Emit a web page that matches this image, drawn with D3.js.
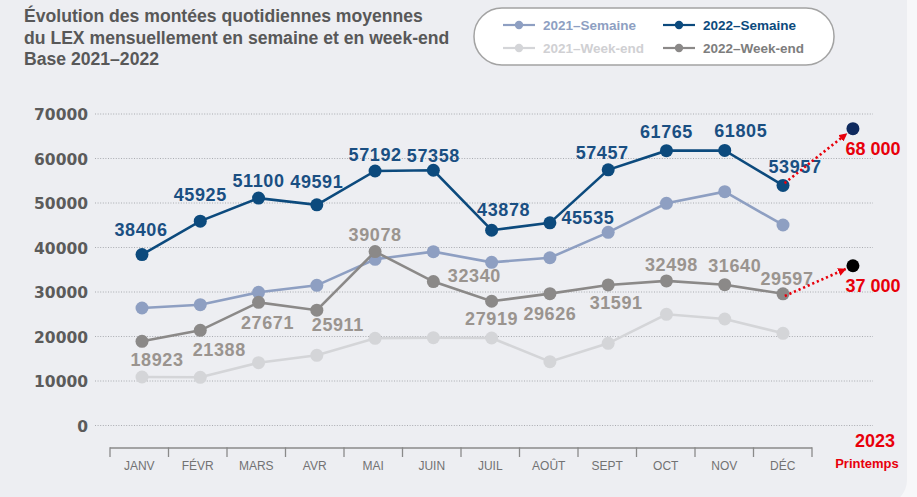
<!DOCTYPE html>
<html><head><meta charset="utf-8">
<script src="https://cdn.jsdelivr.net/npm/d3@7"></script>
<style>
html,body{margin:0;padding:0;background:#f7f7f9;}
svg{display:block;}
</style></head>
<body>
<svg id="c" width="917" height="497"></svg>
<script>
// ---- data ----
const months = ["JANV","FÉVR","MARS","AVR","MAI","JUIN","JUIL","AOÛT","SEPT","OCT","NOV","DÉC"];
const sem2021 = [26400,27150,29930,31500,37350,39060,36670,37700,43400,49930,52540,45060];
const sem2022 = [38406,45925,51100,49591,57192,57358,43878,45535,57457,61765,61805,53957];
const we2021  = [10900,10830,14110,15770,19600,19730,19660,14340,18470,24990,23930,20720];
const we2022  = [18923,21388,27671,25911,39078,32340,27919,29626,31591,32498,31640,29597];
const yTicks  = [0,10000,20000,30000,40000,50000,60000,70000];
const projValues = [66700, 35900];           // drawn position of 2023 points
const projLabels = ["68 000", "37 000"];
const projYear = "2023", projSeason = "Printemps";
const legendNames = ["2021–Semaine","2022–Semaine","2021–Week-end","2022–Week-end"];
const titleLines = ["Évolution des montées quotidiennes moyennes","du LEX mensuellement en semaine et en week-end","Base 2021–2022"];

// ---- layout (label offsets relative to points) ----
const sem22Off = [[-1,-19],[0,-20],[0,-11],[0,-17],[0,-10],[0,-8],[12,-14],[38,1],[-6,-11],[0,-13],[16,-13],[12,-12]];
const we22Off  = [[15,25],[19,26],[9,27],[21,21],[0,-11],[41,0],[0,24],[0,26],[8,24],[5,-10],[10,-13],[4,-9]];

const svg = d3.select("#c");
// panel
svg.append("rect").attr("x",-30).attr("y",-30).attr("width",937).attr("height",535).attr("rx",25).attr("fill","#edeef2");

const y = d3.scaleLinear().domain([0,70000]).range([425.5,114]);
const xb = d3.scaleBand().domain(months).range([110,812]);
const xp = d3.scalePoint().domain(months).range([142,783]);
const projX = xp("DÉC") + 1.2*xp.step();

// grid
svg.append("g").selectAll("line").data(yTicks).join("line")
  .attr("x1",95).attr("x2",873).attr("y1",d=>y(d)).attr("y2",d=>y(d))
  .attr("stroke","#a9abb0").attr("stroke-width",1).attr("stroke-dasharray","1,1.6");
svg.append("g").selectAll("text").data(yTicks).join("text")
  .attr("x",88).attr("y",d=>y(d)+1).attr("text-anchor","end").attr("dominant-baseline","central")
  .attr("font-family","DejaVu Sans").attr("font-weight","bold").attr("font-size",15.5).attr("fill","#5b5b5b")
  .text(d=>d);

// x axis
const ax = svg.append("g");
ax.append("line").attr("x1",xb.range()[0]).attr("x2",xb.range()[1]).attr("y1",448).attr("y2",448)
  .attr("stroke","#8a8a8a").attr("stroke-width",1.5);
const edges = months.map(m=>xb(m)).concat([xb.range()[1]]);
ax.selectAll("line.t").data(edges).join("line").attr("class","t")
  .attr("x1",d=>d).attr("x2",d=>d).attr("y1",447.3).attr("y2",457)
  .attr("stroke","#8a8a8a").attr("stroke-width",1.3);
ax.selectAll("text").data(months).join("text")
  .attr("x",d=>xb(d)+xb.bandwidth()/2).attr("y",469.5).attr("text-anchor","middle")
  .attr("font-family","Liberation Sans").attr("font-size",12).attr("fill","#727272").text(d=>d);

// series
const series = [
  {vals:we2021, color:"#d4d5d8"},
  {vals:sem2021, color:"#8e9fc2"},
  {vals:we2022, color:"#8b8988"},
  {vals:sem2022, color:"#0c4a7d"}
];
const line = d3.line().x((d,i)=>xp(months[i])).y(d=>y(d));
series.forEach(s=>{
  const g = svg.append("g");
  g.append("path").datum(s.vals).attr("d",line).attr("fill","none").attr("stroke",s.color).attr("stroke-width",2.6);
  g.selectAll("circle").data(s.vals).join("circle")
    .attr("cx",(d,i)=>xp(months[i])).attr("cy",d=>y(d)).attr("r",6.5).attr("fill",s.color);
});

// data labels
function labels(vals, offs, color){
  svg.append("g").selectAll("text").data(vals).join("text")
    .attr("x",(d,i)=>xp(months[i])+offs[i][0]).attr("y",(d,i)=>y(d)+offs[i][1])
    .attr("text-anchor","middle").attr("font-family","Liberation Sans").attr("font-weight","bold")
    .attr("font-size",18).attr("letter-spacing",0.6).attr("fill",color).text(d=>d);
}
labels(sem2022, sem22Off, "#1a4f82");
labels(we2022, we22Off, "#9a948f");

// projection
const red = "#e8000b";
svg.append("defs").append("marker").attr("id","ah").attr("viewBox","0 0 10 10").attr("refX",9).attr("refY",5)
  .attr("markerWidth",3.2).attr("markerHeight",3.2).attr("orient","auto")
  .append("path").attr("d","M0,0L10,5L0,10z").attr("fill",red);
const projColors = ["#0f2a5e","#000000"];
const fromVals = [sem2022[11], we2022[11]];
projValues.forEach((v,i)=>{
  svg.append("circle").attr("cx",projX).attr("cy",y(v)).attr("r",6.5).attr("fill",projColors[i]);
});
projValues.forEach((v,i)=>{
  const x0 = xp("DÉC"), y0 = y(fromVals[i]) + (i===0 ? -1 : 3);
  const x1 = projX, y1 = y(v);
  const dx = x1-x0, dy = y1-y0, L = Math.hypot(dx,dy);
  svg.append("line").attr("x1",x0+dx/L*2).attr("y1",y0+dy/L*2).attr("x2",x1-dx/L*8).attr("y2",y1-dy/L*8)
    .attr("stroke",red).attr("stroke-width",2.6).attr("stroke-dasharray","2.2,2.8")
    .attr("marker-end","url(#ah)");
  svg.append("text").attr("x",873).attr("y",y(v)+26).attr("text-anchor","middle")
    .attr("font-family","Liberation Sans").attr("font-weight","bold").attr("font-size",18).attr("fill",red)
    .text(projLabels[i]);
});
svg.append("text").attr("x",875).attr("y",446.5).attr("text-anchor","middle")
  .attr("font-family","Liberation Sans").attr("font-weight","bold").attr("font-size",18).attr("fill",red).text(projYear);
svg.append("text").attr("x",867).attr("y",467.5).attr("text-anchor","middle")
  .attr("font-family","Liberation Sans").attr("font-weight","bold").attr("font-size",13).attr("fill",red).text(projSeason);

// title
svg.append("g").selectAll("text").data(titleLines).join("text")
  .attr("x",24).attr("y",(d,i)=>22+i*21.5)
  .attr("font-family","Liberation Sans").attr("font-weight","bold").attr("font-size",17.6).attr("fill","#585858")
  .text(d=>d);

// legend
const lg = svg.append("g");
lg.append("rect").attr("x",474).attr("y",8).attr("width",360).attr("height",57).attr("rx",28)
  .attr("fill","#ffffff").attr("stroke","#a3a3a3").attr("stroke-width",1.5);
const legColors = ["#8e9fc2","#0c4a7d","#d4d5d8","#8b8988"];
const legText = ["#8e9fc2","#0c4a7d","#d0d0d3","#7d7d7d"];
const legPos = [[503,25],[663,25],[503,48],[663,48]];
legendNames.forEach((n,i)=>{
  const [lx,ly] = legPos[i];
  lg.append("line").attr("x1",lx).attr("x2",lx+32).attr("y1",ly).attr("y2",ly).attr("stroke",legColors[i]).attr("stroke-width",2.2);
  lg.append("circle").attr("cx",lx+16).attr("cy",ly).attr("r",4.2).attr("fill",legColors[i]);
  lg.append("text").attr("x",lx+40).attr("y",ly+5).attr("font-family","Liberation Sans").attr("font-weight","bold")
    .attr("font-size",13.5).attr("fill",legText[i]).text(n);
});
</script>
</body></html>
